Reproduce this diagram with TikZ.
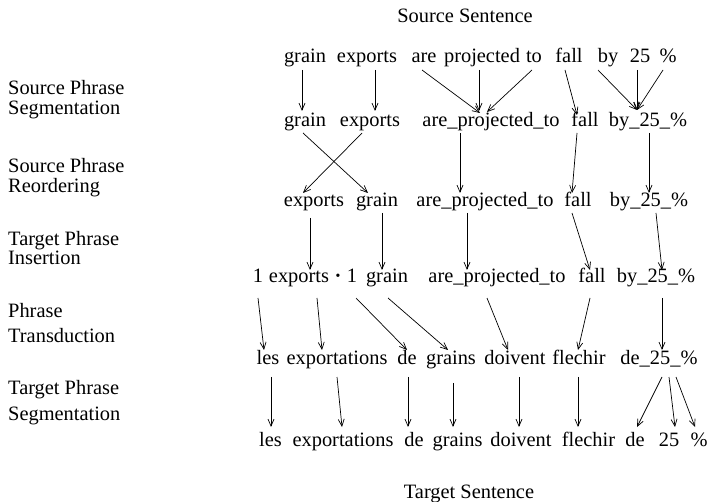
\documentclass[tikz,border=0pt]{standalone}
\usepackage{fontspec}
\setmainfont{Liberation Serif}
\usetikzlibrary{arrows.meta}
\newcommand\diagfont{\fontsize{20.4}{20}\selectfont}
\begin{document}
\begin{tikzpicture}[x=1pt,y=-1pt,
  w/.style={anchor=base, inner sep=0pt, font=\diagfont},
  lab/.style={anchor=base west, inner sep=0pt, font=\diagfont},
  arr/.style={-{Straight Barb[length=7pt,width=6pt]}, line width=0.7pt}]
\useasboundingbox (0,0) rectangle (712,502);

% titles
\node[w] (src) at (465,23) {Source Sentence};
\node[w] (tgt) at (469,498) {Target Sentence};

% stage labels
\node[lab] (l1a) at (8,95) {Source Phrase};
\node[lab] (l1b) at (8,115) {Segmentation};
\node[lab] (l2a) at (8,173) {Source Phrase};
\node[lab] (l2b) at (8,193) {Reordering};
\node[lab] (l3a) at (8,246) {Target Phrase};
\node[lab] (l3b) at (8,265) {Insertion};
\node[lab] (l4a) at (8,318) {Phrase};
\node[lab] (l4b) at (8,343) {Transduction};
\node[lab] (l5a) at (8,395) {Target Phrase};
\node[lab] (l5b) at (8,420) {Segmentation};

% row 1: source words
\node[w] (a1) at (305,63) {grain};
\node[w] (a2) at (367,63) {exports};
\node[w] (a3) at (424,63) {are};
\node[w] (a4) at (482,63) {projected};
\node[w] (a5) at (534,63) {to};
\node[w] (a6) at (569,63) {fall};
\node[w] (a7) at (608,63) {by};
\node[w] (a8) at (640,63) {25};
\node[w] (a9) at (668,63) {\%};

% row 2: source phrases
\node[w] (b1) at (305,127) {grain};
\node[w] (b2) at (370,127) {exports};
\node[w] (b3) at (491,127) {are\_projected\_to};
\node[w] (b4) at (585,127) {fall};
\node[w] (b5) at (648,127) {by\_25\_\%};

% row 3: reordered phrases
\node[w] (c1) at (314,207) {exports};
\node[w] (c2) at (377,207) {grain};
\node[w] (c3) at (485,207) {are\_projected\_to};
\node[w] (c4) at (578,207) {fall};
\node[w] (c5) at (649,207) {by\_25\_\%};

% row 4: with inserted target phrases
\node[w] (d0) at (258,283) {1};
\node[w] (d1) at (299,283) {exports};
\node[w] (dd) at (338,283) {\textbf{·}};
\node[w] (d2) at (352,283) {1};
\node[w] (d3) at (387,283) {grain};
\node[w] (d4) at (497,283) {are\_projected\_to};
\node[w] (d5) at (592,283) {fall};
\node[w] (d6) at (656,283) {by\_25\_\%};

% row 5: target phrases
\node[w] (e1) at (268,365) {les};
\node[w] (e2) at (337,365) {exportations};
\node[w] (e3) at (407,365) {de};
\node[w] (e4) at (451,365) {grains};
\node[w] (e5) at (515,365) {doivent};
\node[w] (e6) at (579,365) {flechir};
\node[w] (e7) at (659,365) {de\_25\_\%};

% row 6: target words
\node[w] (f1) at (270.5,446) {les};
\node[w] (f2) at (343,446) {exportations};
\node[w] (f3) at (414,446) {de};
\node[w] (f4) at (457.5,446) {grains};
\node[w] (f5) at (521,446) {doivent};
\node[w] (f6) at (588.5,446) {flechir};
\node[w] (f7) at (635,446) {de};
\node[w] (f8) at (669,446) {25};
\node[w] (f9) at (699,446) {\%};

% segmentation
\draw[arr] ([shift={(-3,7)}]a1.base) -- ([shift={(-3,-16)}]b1.base);
\draw[arr] ([shift={(8,7)}]a2.base) -- ([shift={(5,-16)}]b2.base);
\draw[arr] ([shift={(-2,7)}]a3.base) -- ([shift={(-11,-14)}]b3.base);
\draw[arr] ([shift={(-3,7)}]a4.base) -- ([shift={(-12,-16)}]b3.base);
\draw[arr] ([shift={(-2,7)}]a5.base) -- ([shift={(-4,-15)}]b3.base);
\draw[arr] ([shift={(-4,7)}]a6.base) -- ([shift={(-8,-12)}]b4.base);
\draw[arr] ([shift={(-10,7)}]a7.base) -- ([shift={(-11,-17)}]b5.base);
\draw[arr] ([shift={(-3,7)}]a8.base) -- ([shift={(-11,-17)}]b5.base);
\draw[arr] ([shift={(-5,7)}]a9.base) -- ([shift={(-11,-17)}]b5.base);

% reordering
\draw[arr] ([shift={(-2,6)}]b1.base) -- ([shift={(-9,-14)}]c2.base);
\draw[arr] ([shift={(-8,6)}]b2.base) -- ([shift={(-11,-14)}]c1.base);
\draw[arr] ([shift={(-31,6)}]b3.base) -- ([shift={(-25,-14)}]c3.base);
\draw[arr] ([shift={(-8,6)}]b4.base) -- ([shift={(-6,-14)}]c4.base);
\draw[arr] ([shift={(1,6)}]b5.base) -- ([shift={(0,-14)}]c5.base);

% insertion
\draw[arr] ([shift={(-4,11)}]c1.base) -- ([shift={(11,-13)}]d1.base);
\draw[arr] ([shift={(5,6)}]c2.base) -- ([shift={(-5,-13)}]d3.base);
\draw[arr] ([shift={(-18,6)}]c3.base) -- ([shift={(-30,-13)}]d4.base);
\draw[arr] ([shift={(-6,6)}]c4.base) -- ([shift={(-2,-13)}]d5.base);
\draw[arr] ([shift={(7,6)}]c5.base) -- ([shift={(6,-13)}]d6.base);

% transduction
\draw[arr] ([shift={(0,15)}]d0.base) -- ([shift={(-4,-15)}]e1.base);
\draw[arr] ([shift={(18,15)}]d1.base) -- ([shift={(-15,-15)}]e2.base);
\draw[arr] ([shift={(4,15)}]d2.base) -- ([shift={(0,-15)}]e3.base);
\draw[arr] ([shift={(1,15)}]d3.base) -- ([shift={(-3,-15)}]e4.base);
\draw[arr] ([shift={(-10,15)}]d4.base) -- ([shift={(-7,-15)}]e5.base);
\draw[arr] ([shift={(-2,15)}]d5.base) -- ([shift={(-1,-15)}]e6.base);
\draw[arr] ([shift={(6,15)}]d6.base) -- ([shift={(3,-15)}]e7.base);

% target segmentation
\draw[arr] ([shift={(3,12)}]e1.base) -- ([shift={(0.5,-19)}]f1.base);
\draw[arr] ([shift={(0,12)}]e2.base) -- ([shift={(-1,-19)}]f2.base);
\draw[arr] ([shift={(1,12)}]e3.base) -- ([shift={(-6,-19)}]f3.base);
\draw[arr] ([shift={(2,18)}]e4.base) -- ([shift={(-4.5,-19)}]f4.base);
\draw[arr] ([shift={(4,12)}]e5.base) -- ([shift={(-2,-19)}]f5.base);
\draw[arr] ([shift={(-1,12)}]e6.base) -- ([shift={(-10.5,-19)}]f6.base);
\draw[arr] ([shift={(3,12)}]e7.base) -- ([shift={(2,-19)}]f7.base);
\draw[arr] ([shift={(10,12)}]e7.base) -- ([shift={(6,-19)}]f8.base);
\draw[arr] ([shift={(17,12)}]e7.base) -- ([shift={(-4,-19)}]f9.base);
\end{tikzpicture}
\end{document}
